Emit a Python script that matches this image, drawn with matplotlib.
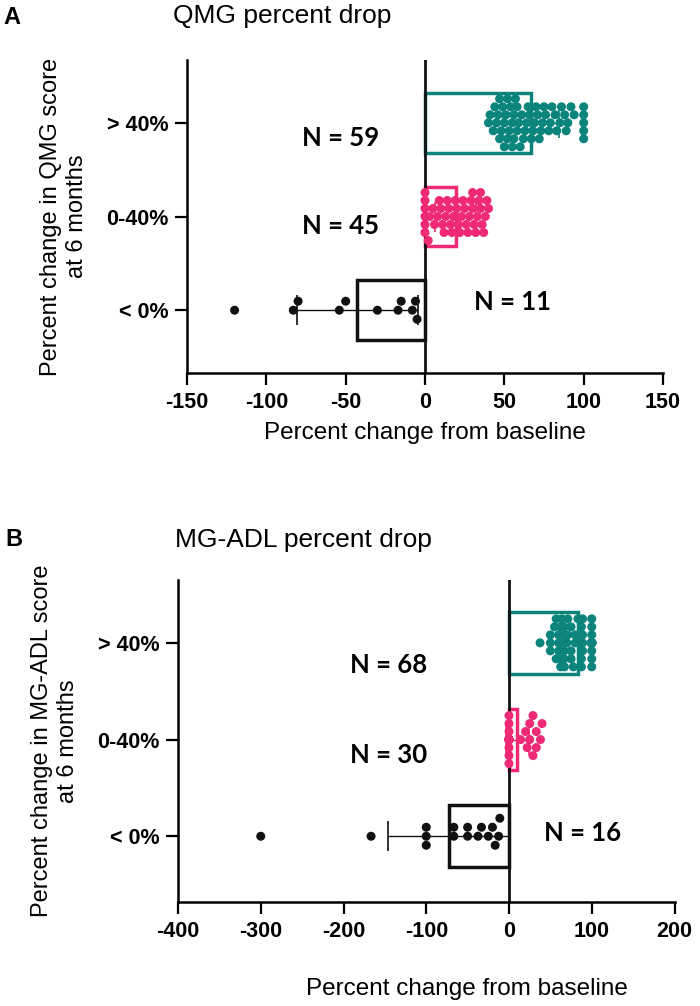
"""
Percent change in QMG and MG-ADL scores at 6 months, split by response group.
Bars show the group mean with SD error bars, dots are individual patients.
"""

import numpy as np
import matplotlib.pyplot as plt

TEAL = "#0b857c"
PINK = "#ee2a74"
BLACK = "#111111"

CATEGORIES = ["< 0%", "0-40%", "> 40%"]
COLORS = [BLACK, PINK, TEAL]

# QMG percent change per patient, by group
qmg_neg = [-120, -83, -80, -54, -50, -30, -17, -15, -8, -6, -5]
qmg_mid = [0, 0, 0, 0, 0, 0, 2, 3, 5, 6, 8, 9, 10, 11, 12, 13, 14, 15, 16, 17,
           18, 19, 20, 21, 22, 23, 24, 25, 26, 27, 28, 29, 30, 30, 31, 32, 33,
           34, 35, 35, 36, 37, 38, 39, 40]
qmg_high = [40, 41, 43, 44, 45, 46, 47, 47, 48, 49, 50, 50, 51, 52, 52, 53, 54,
            55, 55, 56, 56, 57, 58, 58, 59, 60, 61, 62, 63, 64, 65, 66, 67, 68,
            69, 70, 71, 72, 73, 74, 75, 76, 78, 79, 80, 82, 83, 85, 86, 88, 89,
            90, 92, 94, 100, 100, 100, 100, 100]

# MG-ADL percent change per patient, by group
adl_neg = [-300, -166.7, -100, -100, -100, -66.7, -66.7, -50, -50, -37.5,
           -33.3, -25, -20, -16.7, -12.5, -11.1]
adl_mid = [0] * 19 + [14, 20, 22, 25, 25, 29, 29, 33, 33, 38, 40]
adl_high = ([37.5, 50, 50, 50, 55, 57, 57, 60, 60, 60, 62.5, 62.5, 62.5, 64, 64,
             66.7, 66.7, 66.7, 66.7, 67, 70, 71, 71, 75, 75, 75, 77.8, 80, 80,
             83.3] + [87.5] * 4 + [88.9] * 4 + [100] * 30)

QMG_XTICKS = [-150, -100, -50, 0, 50, 100, 150]
ADL_XTICKS = [-400, -300, -200, -100, 0, 100, 200]

# dot spacing (px) per group: sparse black groups spread out, dense ones overlap a bit
SPACING = [9.0, 8.0, 8.0]


def swarm_offsets(ax, values, y0, d_px=9.0, wmax_px=26.0):
    # simple beeswarm in pixel space, points pile up once the band is full
    xy = np.column_stack([values, np.full(len(values), y0)])
    xs = ax.transData.transform(xy)[:, 0]
    steps = [0.0]
    k = 1
    while k * d_px <= wmax_px:
        steps += [k * d_px, -k * d_px]
        k += 1
    px, py = [], []
    offs = np.zeros(len(values))
    for i in np.argsort(xs, kind="stable"):
        best, best_gap = 0.0, -1.0
        for s in steps:
            gap = np.min(np.hypot(np.array(px) - xs[i], np.array(py) - s)) if px else np.inf
            if gap >= d_px * 0.95:
                best = s
                break
            if gap > best_gap:
                best, best_gap = s, gap
        offs[i] = best
        px.append(xs[i])
        py.append(best)
    y_px = ax.transData.transform([(0, 1), (0, 0)])[:, 1]
    return offs / (y_px[0] - y_px[1])


def draw_panel(ax, groups, xlim, xticks, ylim):
    ax.set_xlim(*xlim)
    ax.set_ylim(*ylim)
    for y, (vals, c, d) in enumerate(zip(groups, COLORS, SPACING)):
        vals = np.asarray(vals, dtype=float)
        m, sd = vals.mean(), vals.std(ddof=1)
        ax.barh(y, m, height=0.64, fill=False, edgecolor=c, linewidth=2.5, zorder=2)
        ax.errorbar(m, y, xerr=sd, fmt="none", ecolor=c, elinewidth=1,
                    capsize=11, capthick=1.2, zorder=2)
        ax.scatter(vals, y + swarm_offsets(ax, vals, y, d_px=d), s=42, color=c,
                   edgecolors="none", zorder=3)
    ax.axvline(0, color=BLACK, lw=2, zorder=2.5)
    ax.set_xticks(xticks)
    ax.set_yticks(range(len(CATEGORIES)))
    ax.set_yticklabels(CATEGORIES)
    for s in ["top", "right"]:
        ax.spines[s].set_visible(False)
    for s in ["left", "bottom"]:
        ax.spines[s].set_linewidth(1.8)
    ax.tick_params(length=8.5, width=1.6, labelsize=15.5, pad=5)
    for lab in ax.get_xticklabels() + ax.get_yticklabels():
        lab.set_fontweight("bold")


def main():
    plt.rcParams["font.family"] = ["Liberation Sans", "DejaVu Sans"]
    plt.rcParams["axes.unicode_minus"] = False
    fig = plt.figure(figsize=(7, 10.06), dpi=100)
    W, H = 700, 1006

    ax1 = fig.add_axes([187 / W, (H - 373) / H, 476 / W, 313 / H])
    draw_panel(ax1, [qmg_neg, qmg_mid, qmg_high], (-150, 150), QMG_XTICKS, (-0.67, 2.67))
    ax1.set_ylabel("Percent change in QMG score\nat 6 months", fontsize=17,
                   labelpad=13, linespacing=1.25)
    ax1.set_xlabel("Percent change from baseline", fontsize=17.5, labelpad=7)

    ax2 = fig.add_axes([178 / W, 104 / H, 496.5 / W, 322 / H])
    draw_panel(ax2, [adl_neg, adl_mid, adl_high], (-400, 200), ADL_XTICKS, (-0.68, 2.65))
    ax2.set_ylabel("Percent change in MG-ADL score\nat 6 months", fontsize=17,
                   labelpad=13, linespacing=1.25)
    ax2.set_xlabel("Percent change from baseline", fontsize=17.5, labelpad=26,
                   x=0.582)

    nfont = dict(fontsize=18.5, fontweight="bold", family=["Lato", "DejaVu Sans"],
                 ha="center", va="center", zorder=4)
    ax1.text(-53, 1.84, f"N = {len(qmg_high)}", **nfont)
    ax1.text(-53, 0.90, f"N = {len(qmg_mid)}", **nfont)
    ax1.text(55, 0.085, f"N = {len(qmg_neg)}", **nfont)
    ax2.text(-146, 1.77, f"N = {len(adl_high)}", **nfont)
    ax2.text(-146, 0.84, f"N = {len(adl_mid)}", **nfont)
    ax2.text(89, 0.03, f"N = {len(adl_neg)}", **nfont)

    fig.text(3 / W, 1 - 18 / H, "A", fontsize=17, fontweight="bold", va="center")
    fig.text(173 / W, 1 - 16 / H, "QMG percent drop", fontsize=19, va="center")
    fig.text(5 / W, 1 - 540 / H, "B", fontsize=17, fontweight="bold", va="center")
    fig.text(175 / W, 1 - 540 / H, "MG-ADL percent drop", fontsize=19, va="center")

    fig.savefig("out.png", dpi=100)


if __name__ == "__main__":
    main()
